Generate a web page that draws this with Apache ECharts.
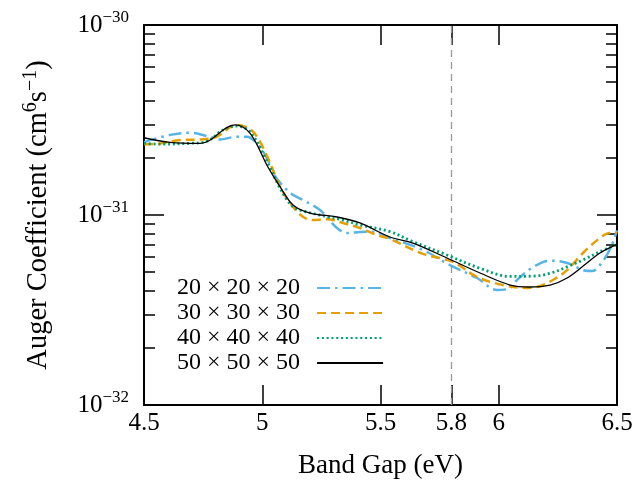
<!DOCTYPE html>
<html><head><meta charset="utf-8">
<script src="https://cdn.jsdelivr.net/npm/echarts@6/dist/echarts.min.js"></script>
<style>html,body{margin:0;padding:0;background:#fff}#c{width:636px;height:483px}</style>
</head><body><div id="c"></div>
<script>
// ---- data ----
const seriesNames = ['20 × 20 × 20', '30 × 30 × 30', '40 × 40 × 40', '50 × 50 × 50'];

const x20 = [4.5, 4.61, 4.695, 4.779, 4.821, 4.892, 4.934, 4.977, 5.024, 5.045, 5.117, 5.172, 5.244, 5.316, 5.358, 5.413, 5.468, 5.54, 5.68, 5.794, 5.908, 5.993, 6.048, 6.077, 6.145, 6.217, 6.289, 6.356, 6.394, 6.428, 6.47, 6.5];
const y20 = [2.42e-31, 2.64e-31, 2.71e-31, 2.58e-31, 2.50e-31, 2.58e-31, 2.58e-31, 2.38e-31, 1.95e-31, 1.66e-31, 1.31e-31, 1.20e-31, 1.062e-31, 0.854e-31, 0.804e-31, 0.814e-31, 0.817e-31, 0.757e-31, 0.654e-31, 0.545e-31, 0.466e-31, 0.403e-31, 0.413e-31, 0.455e-31, 0.532e-31, 0.575e-31, 0.559e-31, 0.513e-31, 0.507e-31, 0.545e-31, 0.66e-31, 0.83e-31];

const x30 = [4.5, 4.568, 4.652, 4.737, 4.807, 4.892, 4.961, 5.024, 5.075, 5.13, 5.172, 5.215, 5.274, 5.341, 5.413, 5.485, 5.54, 5.68, 5.807, 5.908, 6.018, 6.119, 6.162, 6.229, 6.289, 6.356, 6.428, 6.47, 6.5];
const y30 = [2.36e-31, 2.38e-31, 2.48e-31, 2.50e-31, 2.58e-31, 2.98e-31, 2.745e-31, 1.995e-31, 1.41e-31, 1.106e-31, 0.98e-31, 0.941e-31, 0.949e-31, 0.908e-31, 0.854e-31, 0.785e-31, 0.748e-31, 0.624e-31, 0.566e-31, 0.472e-31, 0.428e-31, 0.413e-31, 0.418e-31, 0.455e-31, 0.513e-31, 0.631e-31, 0.757e-31, 0.804e-31, 0.804e-31];

const x40 = [4.5, 4.568, 4.695, 4.765, 4.834, 4.892, 4.948, 5.024, 5.075, 5.13, 5.202, 5.274, 5.341, 5.413, 5.54, 5.637, 5.781, 5.921, 6.048, 6.145, 6.217, 6.289, 6.356, 6.428, 6.5];
const y40 = [2.384e-31, 2.36e-31, 2.384e-31, 2.44e-31, 2.80e-31, 2.94e-31, 2.745e-31, 1.878e-31, 1.387e-31, 1.106e-31, 1.028e-31, 0.98e-31, 0.941e-31, 0.886e-31, 0.817e-31, 0.724e-31, 0.616e-31, 0.524e-31, 0.475e-31, 0.477e-31, 0.493e-31, 0.534e-31, 0.580e-31, 0.641e-31, 0.70e-31];

const x50 = [4.5, 4.61, 4.737, 4.885, 4.948, 5.024, 5.075, 5.13, 5.202, 5.316, 5.413, 5.54, 5.637, 5.781, 5.921, 6.048, 6.132, 6.217, 6.289, 6.373, 6.428, 6.5];
const y50 = [2.55e-31, 2.41e-31, 2.38e-31, 2.98e-31, 2.70e-31, 1.79e-31, 1.41e-31, 1.13e-31, 1.024e-31, 0.976e-31, 0.908e-31, 0.766e-31, 0.712e-31, 0.594e-31, 0.495e-31, 0.428e-31, 0.418e-31, 0.428e-31, 0.466e-31, 0.559e-31, 0.631e-31, 0.70e-31];

const xTicks = [4.5, 5, 5.5, 5.8, 6, 6.5];
const yMajor = [1e-32, 1e-31, 1e-30];
const yMinor = [2e-32, 3e-32, 4e-32, 5e-32, 6e-32, 7e-32, 8e-32, 9e-32, 2e-31, 3e-31, 4e-31, 5e-31, 6e-31, 7e-31, 8e-31, 9e-31];
const markerGap = 5.8;

// ---- chart ----
const FF = 'Liberation Serif, Times New Roman, serif';
const zip = (xs, ys) => xs.map((x, i) => [x, ys[i]]);
const chart = echarts.init(document.getElementById('c'), null, {renderer: 'canvas'});

const axLine = {show: true, onZero: false, lineStyle: {color: '#000', width: 2}};
const tickStyle = {color: '#000', width: 1.5};
const lg = v => Math.log10(v);
const Y_MIN = lg(yMajor[0]), Y_MAX = lg(yMajor[yMajor.length - 1]);

function xAx(pos, labels) {
  return {
    type: 'value', min: 4.5, max: 6.5, position: pos,
    axisLine: axLine,
    axisTick: {show: true, inside: true, length: 20, lineStyle: tickStyle, customValues: xTicks},
    axisLabel: {show: labels, customValues: xTicks, fontSize: 25, fontFamily: FF, color: '#000', margin: 6},
    splitLine: {show: false}, minorTick: {show: false}
  };
}
// tick-only axes in log10 space (exponent units), aligned with the log data axis
function yTickAx(pos, major, labels) {
  const vals = (major ? yMajor : yMinor).map(lg);
  return {
    type: 'value', min: Y_MIN, max: Y_MAX, position: pos,
    axisLine: {show: false, onZero: false},
    axisTick: {show: true, inside: true, length: major ? 20 : 11, lineStyle: tickStyle, customValues: vals},
    axisLabel: {
      show: labels, customValues: yMajor.map(lg), margin: 15, color: '#000',
      formatter: v => '{b|10}{s|−' + Math.abs(Math.round(v)) + '}',
      rich: {
        b: {fontSize: 25, fontFamily: FF, color: '#000'},
        s: {fontSize: 17, fontFamily: FF, color: '#000', padding: [0, 0, 15, 0]}
      }
    },
    splitLine: {show: false}, minorTick: {show: false}
  };
}

const yData = {
  type: 'log', logBase: 10, min: yMajor[0], max: yMajor[yMajor.length - 1], position: 'left',
  axisLine: axLine, axisTick: {show: false}, axisLabel: {show: false},
  splitLine: {show: false}, minorTick: {show: false}
};
const yRightLine = {
  type: 'log', logBase: 10, min: yMajor[0], max: yMajor[yMajor.length - 1], position: 'right',
  axisLine: axLine, axisTick: {show: false}, axisLabel: {show: false},
  splitLine: {show: false}, minorTick: {show: false}
};

const yLab = yTickAx('left', true, true);
yLab.name = '{t|Auger Coefficient (cm}{u|6}{t|s}{u|−1}{t|)}';
yLab.nameLocation = 'middle';
yLab.nameGap = 88;
yLab.nameTextStyle = {
  rich: {
    t: {fontSize: 28.5, fontFamily: FF, color: '#000'},
    u: {fontSize: 20, fontFamily: FF, color: '#000', padding: [0, 0, 15, 0]}
  }
};

const xMain = xAx('bottom', true);
xMain.name = 'Band Gap (eV)';
xMain.nameLocation = 'middle';
xMain.nameGap = 47;
xMain.nameTextStyle = {fontSize: 27, fontFamily: FF, color: '#000'};

const colors = ['#56B4E9', '#E69F00', '#009E73', '#000000'];
const widths = [2.5, 2.5, 2.8, 1.3];
const dashes = [[13, 5, 2.5, 5], [9, 5], [2, 2.8], 'solid'];
const datas = [zip(x20, y20), zip(x30, y30), zip(x40, y40), zip(x50, y50)];

const series = seriesNames.map((n, i) => ({
  name: n, type: 'line', data: datas[i], xAxisIndex: 0, yAxisIndex: 0,
  symbol: 'none', smooth: 0.35, z: 3 + i,
  lineStyle: {color: colors[i], width: widths[i], type: dashes[i]},
  itemStyle: {color: colors[i]},
  emphasis: {disabled: true}
}));
series[0].markLine = {
  silent: true, symbol: ['none', 'none'], animation: false,
  label: {show: false},
  lineStyle: {color: '#999999', width: 1.3, type: [7, 5]},
  data: [{xAxis: markerGap}]
};

chart.setOption({
  animation: false,
  backgroundColor: '#fff',
  grid: {left: 144, right: 19, top: 25, bottom: 78, containLabel: false, outerBoundsMode: 'none'},
  xAxis: [xMain, xAx('top', false)],
  yAxis: [yData, yLab, yTickAx('left', false, false), yRightLine, yTickAx('right', true, false), yTickAx('right', false, false)],
  legend: {
    show: true, orient: 'vertical', left: 172, top: 271, align: 'right',
    itemWidth: 66, itemHeight: 14, itemGap: 1, selectedMode: false,
    itemStyle: {color: 'rgba(0,0,0,0)', borderWidth: 0, borderColor: 'rgba(0,0,0,0)'},
    textStyle: {fontSize: 24, fontFamily: FF, color: '#000', lineHeight: 24, padding: [0, 12, 0, 0]},
    data: seriesNames
  },
  series: series
});
</script>
</body></html>
